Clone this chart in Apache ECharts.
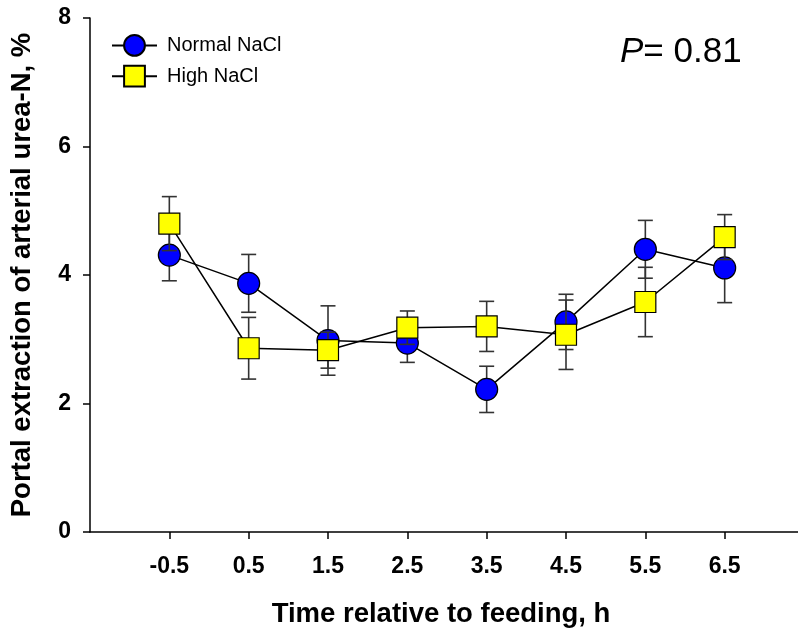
<!DOCTYPE html>
<html>
<head>
<meta charset="utf-8">
<script src="https://cdn.jsdelivr.net/npm/echarts@6/dist/echarts.min.js"></script>
<style>
  html, body { margin: 0; padding: 0; background: #fff; }
  #chart { width: 798px; height: 630px; }
</style>
</head>
<body>
<div id="chart"></div>
<script>
// hours relative to feeding
const time = [-0.5, 0.5, 1.5, 2.5, 3.5, 4.5, 5.5, 6.5];
// Normal NaCl: mean and SE
const normalMean = [4.31, 3.87, 2.98, 2.94, 2.22, 3.27, 4.40, 4.11];
const normalSE = [0.40, 0.45, 0.54, 0.30, 0.36, 0.43, 0.45, 0.54];
// High NaCl: mean and SE
const highMean = [4.80, 2.86, 2.83, 3.18, 3.20, 3.07, 3.58, 4.59];
const highSE = [0.42, 0.48, 0.28, 0.26, 0.39, 0.54, 0.54, 0.35];
const yTicks = [0, 2, 4, 6, 8];

const FONT = '"Liberation Sans", Arial, sans-serif';

function points(mean) {
    return time.map((t, i) => [t, mean[i]]);
}
function bars(mean, se) {
    return time.map((t, i) => [t, mean[i] - se[i], mean[i] + se[i]]);
}

// vertical bar with caps
function renderErr(params, api) {
    const x = api.value(0);
    const lo = api.coord([x, api.value(1)]);
    const hi = api.coord([x, api.value(2)]);
    const w = 7.5;
    const style = { stroke: '#333', lineWidth: 1.6 };
    return {
        type: 'group',
        children: [
            { type: 'line', shape: { x1: lo[0], y1: lo[1], x2: hi[0], y2: hi[1] }, style: style },
            { type: 'line', shape: { x1: lo[0] - w, y1: lo[1], x2: lo[0] + w, y2: lo[1] }, style: style },
            { type: 'line', shape: { x1: hi[0] - w, y1: hi[1], x2: hi[0] + w, y2: hi[1] }, style: style }
        ]
    };
}

const chart = echarts.init(document.getElementById('chart'));
chart.setOption({
    animation: false,
    backgroundColor: '#fff',
    grid: { left: 90, top: 18, bottom: 98, right: -6, containLabel: false, outerBoundsMode: 'none' },
    legend: {
        orient: 'vertical',
        left: 111,
        top: 34,
        padding: 0,
        itemWidth: 45,
        itemHeight: 26,
        itemGap: 8,
        data: ['Normal NaCl', 'High NaCl'],
        textStyle: { fontFamily: FONT, fontSize: 20, color: '#000', padding: [0, 0, 0, 5] }
    },
    xAxis: {
        type: 'value',
        min: -1.5,
        max: 7.5,
        interval: 1,
        name: 'Time relative to feeding, h',
        nameLocation: 'middle',
        nameGap: 68,
        nameTextStyle: { fontFamily: FONT, fontSize: 27.5, fontWeight: 'bold', color: '#000', padding: [0, 12, 0, 0] },
        splitLine: { show: false },
        axisLine: { lineStyle: { color: '#000', width: 1.5 } },
        axisTick: { inside: false, length: 7, lineStyle: { color: '#000', width: 1.5 } },
        axisLabel: {
            showMinLabel: false,
            showMaxLabel: false,
            margin: 23,
            fontFamily: FONT, fontSize: 23, fontWeight: 'bold', color: '#000',
            formatter: v => (time.indexOf(v) >= 0 ? v.toFixed(1) : '')
        }
    },
    yAxis: {
        type: 'value',
        min: yTicks[0],
        max: yTicks[yTicks.length - 1],
        interval: 2,
        name: 'Portal extraction of arterial urea-N, %',
        nameLocation: 'middle',
        nameGap: 54,
        nameTextStyle: { fontFamily: FONT, fontSize: 27.5, fontWeight: 'bold', color: '#000' },
        splitLine: { show: false },
        axisLine: { show: true, onZero: false, lineStyle: { color: '#000', width: 1.5 } },
        axisTick: { show: true, length: 7, lineStyle: { color: '#000', width: 1.5 } },
        axisLabel: { margin: 19, fontFamily: FONT, fontSize: 23, fontWeight: 'bold', color: '#000' }
    },
    graphic: [{
        type: 'text',
        left: 620,
        top: 35,
        style: {
            text: '{i|P}{n|= 0.81}',
            rich: {
                i: { fontFamily: FONT, fontSize: 35, fontStyle: 'italic', fill: '#000' },
                n: { fontFamily: FONT, fontSize: 35, fill: '#000' }
            }
        }
    }],
    series: [
        {
            name: 'Normal NaCl err',
            type: 'custom',
            renderItem: renderErr,
            data: bars(normalMean, normalSE),
            z: 2,
            silent: true
        },
        {
            name: 'Normal NaCl',
            type: 'line',
            data: points(normalMean),
            symbol: 'circle',
            symbolSize: 22,
            itemStyle: { color: '#0000ff', borderColor: '#000', borderWidth: 1.2 },
            lineStyle: { color: '#000', width: 1.5 },
            z: 3
        },
        {
            name: 'High NaCl err',
            type: 'custom',
            renderItem: renderErr,
            data: bars(highMean, highSE),
            z: 4,
            silent: true
        },
        {
            name: 'High NaCl',
            type: 'line',
            data: points(highMean),
            symbol: 'rect',
            symbolSize: 21,
            itemStyle: { color: '#ffff00', borderColor: '#000', borderWidth: 1.2 },
            lineStyle: { color: '#000', width: 1.5 },
            z: 5
        }
    ]
});
</script>
</body>
</html>
